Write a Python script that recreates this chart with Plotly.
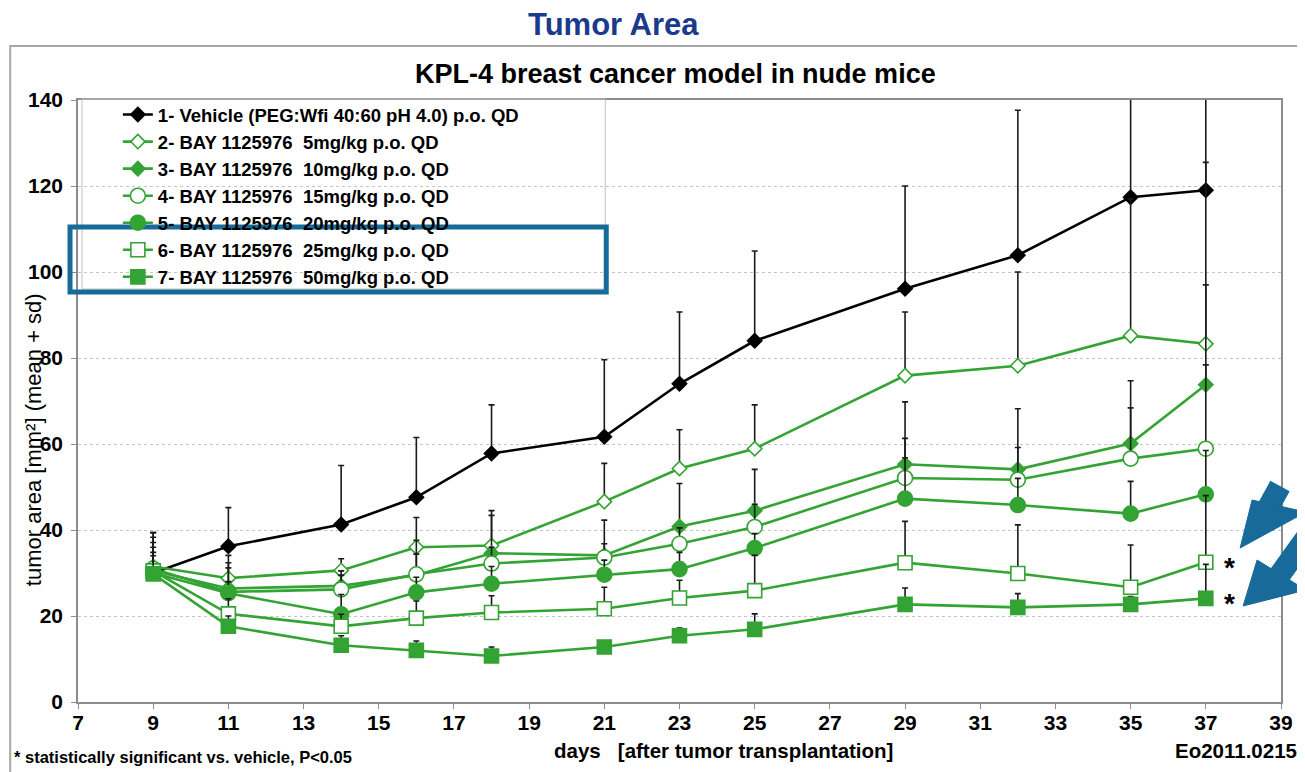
import plotly.graph_objects as go

# ---------------- data ----------------
days = [9, 11, 14, 16, 18, 21, 23, 25, 29, 32, 35, 37]

series_names = [
    "1- Vehicle (PEG:Wfi 40:60 pH 4.0) p.o. QD",
    "2- BAY 1125976  5mg/kg p.o. QD",
    "3- BAY 1125976  10mg/kg p.o. QD",
    "4- BAY 1125976  15mg/kg p.o. QD",
    "5- BAY 1125976  20mg/kg p.o. QD",
    "6- BAY 1125976  25mg/kg p.o. QD",
    "7- BAY 1125976  50mg/kg p.o. QD",
]

vehicle_mean = [30.0, 36.2, 41.3, 47.6, 57.8, 61.7, 74.0, 84.0, 96.1, 103.9, 117.4, 119.0]
vehicle_sd = [9.4, 9.0, 13.7, 13.9, 11.3, 17.9, 16.7, 20.9, 23.9, 33.7, 33.0, 36.0]

mg5_mean = [31.5, 28.8, 30.6, 36.0, 36.4, 46.6, 54.3, 58.9, 75.9, 78.2, 85.2, 83.3]
mg5_sd = [6.8, 5.3, 2.7, 6.9, 8.1, 8.9, 9.0, 10.2, 14.8, 21.8, 31.8, 42.2]

mg10_mean = [30.5, 26.4, 27.0, 29.5, 34.6, 34.1, 40.8, 44.5, 55.3, 54.1, 60.1, 73.8]
mg10_sd = [8.9, 6.0, 3.5, 8.1, 8.8, 8.2, 10.0, 9.6, 14.5, 14.1, 14.6, 23.2]

mg15_mean = [31.0, 25.6, 26.2, 29.7, 32.2, 33.6, 36.8, 40.7, 52.1, 51.7, 56.6, 58.9]
mg15_sd = [6.1, 5.6, 3.3, 4.7, 3.8, 3.2, 3.7, 5.3, 9.2, 7.5, 11.8, 19.5]

mg20_mean = [30.0, 25.3, 20.4, 25.5, 27.5, 29.6, 30.9, 35.8, 47.3, 45.8, 43.8, 48.3]
mg20_sd = [6.0, 2.7, 4.6, 3.5, 4.0, 3.4, 3.9, 3.4, 9.5, 6.2, 7.5, 10.2]

mg25_mean = [30.5, 20.5, 17.6, 19.5, 20.8, 21.7, 24.2, 25.9, 32.4, 29.9, 26.7, 32.5]
mg25_sd = [4.3, 3.5, 2.8, 4.0, 3.9, 5.0, 4.1, 8.2, 9.6, 11.3, 9.8, 15.5]

mg50_mean = [29.8, 17.6, 13.2, 12.0, 10.7, 12.8, 15.4, 16.9, 22.7, 22.0, 22.7, 24.1]
mg50_sd = [4.2, 2.4, 2.2, 2.2, 2.1, 1.2, 1.8, 3.6, 3.8, 3.2, 1.8, 7.9]

x_ticks = list(range(7, 40, 2))
y_ticks = list(range(0, 141, 20))

# ---------------- styling ----------------
FONT = "Liberation Sans, Arial, sans-serif"
GREEN = "#33a333"
BLACK = "#000000"
BLUE = "#176a99"

OFF = 8                      # page body margin
W, H = 1305 - OFF, 772 - OFF
L, R, T, B = 78, 1285, 100, 702   # plot area in page pixels


def px(x):
    return (x - L) / (R - L)


def py(y):
    return (B - y) / (B - T)


styles = [
    dict(color=BLACK, symbol="diamond", size=11, fill=BLACK),
    dict(color=GREEN, symbol="diamond", size=11, fill="white"),
    dict(color=GREEN, symbol="diamond", size=11, fill=GREEN),
    dict(color=GREEN, symbol="circle", size=15, fill="white"),
    dict(color=GREEN, symbol="circle", size=15, fill=GREEN),
    dict(color=GREEN, symbol="square", size=14, fill="white"),
    dict(color=GREEN, symbol="square", size=14, fill=GREEN),
]
means = [vehicle_mean, mg5_mean, mg10_mean, mg15_mean, mg20_mean, mg25_mean, mg50_mean]
sds = [vehicle_sd, mg5_sd, mg10_sd, mg15_sd, mg20_sd, mg25_sd, mg50_sd]

fig = go.Figure()
for name, m, s, st in zip(series_names, means, sds, styles):
    fig.add_trace(go.Scatter(
        x=days, y=m, name=name, mode="lines+markers",
        line=dict(color=st["color"], width=2.6),
        marker=dict(symbol=st["symbol"], size=st["size"], color=st["fill"],
                    line=dict(color=st["color"], width=1.6)),
        error_y=dict(type="data", symmetric=False, array=s,
                     arrayminus=[0] * len(s), color="#1a1a1a",
                     thickness=1.6, width=3),
    ))

axis_common = dict(
    showline=True, linecolor="#8c8c8c", linewidth=1.5, mirror=True,
    ticks="outside", tickcolor="#8c8c8c", ticklen=5,
    tickfont=dict(family=FONT, size=21, color="black", weight="bold"),
    zeroline=False,
)

fig.update_xaxes(range=[7, 39], tickvals=x_ticks, showgrid=False,
                 ticklabelstandoff=-4, **axis_common)
fig.update_yaxes(range=[0, 140], tickvals=y_ticks, showgrid=True,
                 gridcolor="#c4c4c4", griddash="dot", gridwidth=1,
                 ticklabelstandoff=4, **axis_common)


def ann(text, x, y, size, xanchor="center", bold=True, color="black", **kw):
    return dict(text=text, x=px(x), y=py(y), xref="paper", yref="paper",
                xanchor=xanchor, yanchor="middle", showarrow=False,
                font=dict(family=FONT, size=size, color=color,
                          weight="bold" if bold else "normal"), **kw)


annotations = [
    ann("Tumor Area", 615, 24, 31, color="#1b3a8c"),
    ann("KPL-4 breast cancer model in nude mice", 677, 74, 27),
    ann("tumor area [mm²] (mean + sd)", 34, 440, 22, bold=False, textangle=-90),
    ann("days   [after tumor transplantation]", 726, 750, 20.5),
    ann("* statistically significant vs. vehicle, P<0.05", 12, 757, 16.5, xanchor="left"),
    ann("Eo2011.0215", 1303, 750, 20.5, xanchor="right"),
    dict(text="*", x=days[-1], y=mg25_mean[-1], xshift=24, yshift=-5,
         xanchor="center", yanchor="middle",
         showarrow=False, font=dict(family=FONT, size=28, color="black", weight="bold")),
    dict(text="*", x=days[-1], y=mg50_mean[-1], xshift=24, yshift=-5,
         xanchor="center", yanchor="middle",
         showarrow=False, font=dict(family=FONT, size=28, color="black", weight="bold")),
]


def rect(x0, y0, x1, y1, color, width):
    return dict(type="rect", xref="paper", yref="paper",
                x0=px(x0), x1=px(x1), y0=py(y1), y1=py(y0),
                line=dict(color=color, width=width), fillcolor="rgba(0,0,0,0)", layer="above")


def line(x0, y0, x1, y1, color, width):
    return dict(type="line", xref="paper", yref="paper",
                x0=px(x0), y0=py(y0), x1=px(x1), y1=py(y1),
                line=dict(color=color, width=width), layer="above")


def poly(pts, color):
    path = "M " + " L ".join(f"{px(a):.5f},{py(b):.5f}" for a, b in pts) + " Z"
    return dict(type="path", xref="paper", yref="paper", path=path,
                fillcolor=color, line=dict(color=color, width=1), layer="above")


shapes = [
    rect(10, 46, 1340, 820, "#a6a6a6", 2),          # outer frame
    rect(82, 99, 607, 289, "#c0c0c0", 1),           # legend border
    rect(70, 227, 608, 292, BLUE, 5),               # highlight box
    # decorative arrows pointing at the significant groups
    line(1284, 486, 1262, 526, BLUE, 22),
    poly([(1244, 548), (1256, 500), (1310, 512)], BLUE),
    line(1316, 530, 1280, 580, BLUE, 22),
    poly([(1247, 606), (1261, 560), (1310, 590)], BLUE),
]

fig.update_layout(
    width=W, height=H,
    margin=dict(l=L - OFF, r=W - (R - OFF), t=T - OFF, b=H - (B - OFF)),
    paper_bgcolor="white", plot_bgcolor="white",
    font=dict(family=FONT, color="black"),
    showlegend=True,
    legend=dict(x=px(118), y=py(96), xanchor="left", yanchor="top",
                bgcolor="rgba(0,0,0,0)", borderwidth=0, tracegroupgap=0,
                font=dict(family=FONT, size=18.5, color="black", weight="bold")),
    annotations=annotations,
    shapes=shapes,
)

fig.write_html("out.html")
